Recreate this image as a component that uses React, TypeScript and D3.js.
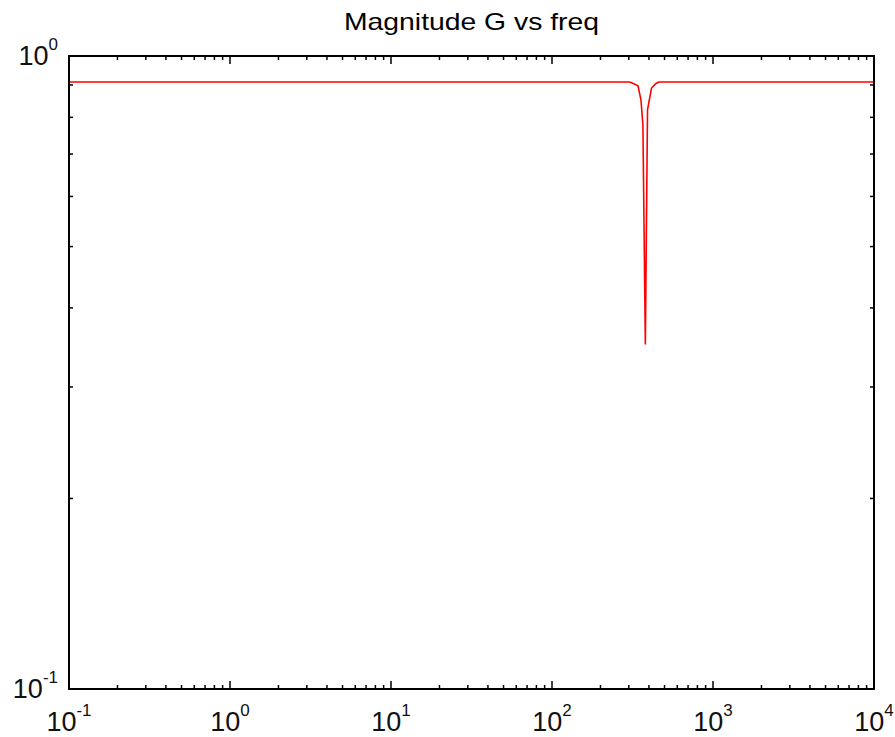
import React, { useRef, useEffect } from "react";
import * as d3 from "d3";

// frequency samples (Hz) and magnitude |G|
const freq = [0.1, 300, 310, 342, 357, 367, 380, 392, 415, 442, 462, 10000];
const mag = [0.91, 0.91, 0.908, 0.897, 0.852, 0.778, 0.35, 0.822, 0.89, 0.905, 0.91, 0.91];

const xDecades = [-1, 0, 1, 2, 3, 4];
const yDecades = [-1, 0];

const W = 895;
const H = 737;
const M = { top: 56, right: 21, bottom: 48, left: 69 };

const App = () => {
  const ref = useRef<SVGSVGElement | null>(null);

  useEffect(() => {
    const svg = d3.select(ref.current);
    svg.selectAll("*").remove();

    const x = d3.scaleLog().domain([0.1, 10000]).range([M.left, W - M.right]);
    const y = d3.scaleLog().domain([0.1, 1]).range([H - M.bottom, M.top]);
    const font = "Liberation Sans, Arial, Helvetica, sans-serif";

    // title
    svg
      .append("text")
      .attr("x", (M.left + W - M.right) / 2)
      .attr("y", 30)
      .attr("text-anchor", "middle")
      .attr("font-family", font)
      .attr("font-size", 24)
      .attr("textLength", 255)
      .attr("lengthAdjust", "spacingAndGlyphs")
      .text("Magnitude G vs freq");

    // data line
    const line = d3
      .line<number>()
      .x((_, i) => x(freq[i]))
      .y((d) => y(d));
    svg
      .append("path")
      .attr("d", line(mag))
      .attr("fill", "none")
      .attr("stroke", "#ff0000")
      .attr("stroke-width", 1.6);

    // ticks (inward, on all four sides)
    const x0 = M.left;
    const x1 = W - M.right;
    const y0 = M.top;
    const y1 = H - M.bottom;
    const tk = svg.append("g").attr("stroke", "#000").attr("stroke-width", 1.5);

    xDecades.forEach((e) => {
      for (let k = 1; k <= 9; k++) {
        const v = k * Math.pow(10, e);
        if (v > 10000 || (e === 4 && k > 1)) continue;
        const px = x(v);
        const len = k === 1 ? 8 : 4;
        tk.append("line").attr("x1", px).attr("x2", px).attr("y1", y1).attr("y2", y1 - len);
        tk.append("line").attr("x1", px).attr("x2", px).attr("y1", y0).attr("y2", y0 + len);
      }
    });
    for (let k = 1; k <= 10; k++) {
      const v = k * 0.1;
      const py = y(v);
      const len = k === 1 || k === 10 ? 8 : 4;
      tk.append("line").attr("x1", x0).attr("x2", x0 + len).attr("y1", py).attr("y2", py);
      tk.append("line").attr("x1", x1).attr("x2", x1 - len).attr("y1", py).attr("y2", py);
    }

    // box
    svg
      .append("rect")
      .attr("x", x0)
      .attr("y", y0)
      .attr("width", x1 - x0)
      .attr("height", y1 - y0)
      .attr("fill", "none")
      .attr("stroke", "#000")
      .attr("stroke-width", 2);

    // x tick labels
    xDecades.forEach((e) => {
      const t = svg
        .append("text")
        .attr("x", x(Math.pow(10, e)))
        .attr("y", 731)
        .attr("text-anchor", "middle")
        .attr("font-family", font)
        .attr("font-size", 27)
        .attr("fill", "#111");
      t.append("tspan").text("10");
      t.append("tspan").attr("dy", -15).attr("font-size", 17).text(String(e));
    });

    // y tick labels
    yDecades.forEach((e) => {
      const t = svg
        .append("text")
        .attr("x", 58)
        .attr("y", y(Math.pow(10, e)) + 9)
        .attr("text-anchor", "end")
        .attr("font-family", font)
        .attr("font-size", 27)
        .attr("fill", "#111");
      t.append("tspan").text("10");
      t.append("tspan").attr("dy", -15).attr("font-size", 17).text(String(e));
    });
  }, []);

  return (
    <svg
      ref={ref}
      width={W}
      height={H}
      style={{ position: "absolute", left: 0, top: 0, background: "#fff" }}
    />
  );
};

export default App;
